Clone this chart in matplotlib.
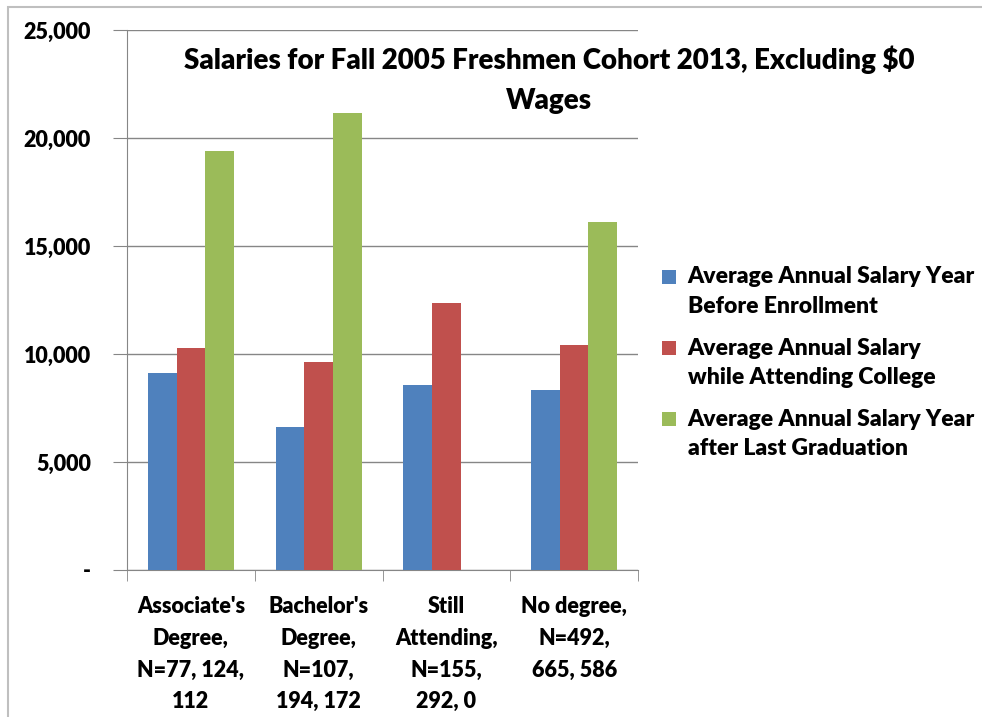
import numpy as np
import matplotlib.pyplot as plt
from matplotlib import font_manager as fm
from matplotlib.patches import Rectangle

# heavy Lato comes closest to the on-screen Calibri Bold of the original
bold_file = [f.fname for f in fm.fontManager.ttflist
             if f.name == 'Lato' and f.weight == 800 and f.style == 'normal'][0]
plt.rcParams['font.family'] = ['Lato', 'DejaVu Sans']

# Data (average annual salary, $)
categories = ["Associate's\nDegree,\nN=77, 124,\n112",
              "Bachelor's\nDegree,\nN=107,\n194, 172",
              "Still\nAttending,\nN=155,\n292, 0",
              "No degree,\nN=492,\n665, 586"]
before_enroll = [9130, 6640, 8580, 8340]
while_attending = [10290, 9640, 12380, 10430]
after_grad = [19400, 21160, 0, 16130]
series_labels = ["Average Annual Salary Year\nBefore Enrollment",
                 "Average Annual Salary\nwhile Attending College",
                 "Average Annual Salary Year\nafter Last Graduation"]
colors = ['#4F81BD', '#C0504D', '#9BBB59']
yticks = [0, 5000, 10000, 15000, 20000, 25000]


def fp(size):
    return fm.FontProperties(fname=bold_file, size=size)


fig = plt.figure(figsize=(9.82, 7.17), dpi=100)
ax = fig.add_axes([127 / 982, 1 - 570 / 717, (638 - 127) / 982, (570 - 30) / 717])

# outer chart border (only top and left visible in the crop)
fig.patches.append(Rectangle((8 / 982, -0.1), 1.2, 1 - 7 / 717 + 0.1,
                             transform=fig.transFigure, fill=False,
                             edgecolor='#BFBFBF', lw=1.5))

x = np.arange(len(categories))
w = 0.225
for i, vals in enumerate([before_enroll, while_attending, after_grad]):
    ax.bar(x + (i - 1) * w, vals, width=w, color=colors[i],
           label=series_labels[i], zorder=3)

ax.set_xlim(-0.5, 3.5)
ax.set_ylim(0, 25000)
ax.set_yticks(yticks)
ax.set_yticklabels(['-' if v == 0 else f'{v:,}' for v in yticks], fontproperties=fp(15.5))
ax.yaxis.grid(True, color='#868686', lw=1)
ax.set_axisbelow(True)

ax.set_xticks(x)
ax.set_xticklabels(categories, linespacing=1.62, fontproperties=fp(15.5))
ax.set_xticks(np.arange(-0.5, 4, 1), minor=True)
ax.tick_params(axis='x', which='major', length=0, pad=19)
ax.tick_params(axis='x', which='minor', length=8, color='#868686', direction='out')
ax.tick_params(axis='y', length=10, color='#868686', pad=16)

for s in ['top', 'right']:
    ax.spines[s].set_visible(False)
for s in ['left', 'bottom']:
    ax.spines[s].set_color('#868686')

fig.text(549 / 982, 1 - 45 / 717,
         "Salaries for Fall 2005 Freshmen Cohort 2013, Excluding $0\nWages",
         ha='center', va='top', fontproperties=fp(20), linespacing=1.68)

leg = ax.legend(loc='upper left', bbox_to_anchor=(651 / 982, 1 - 255 / 717),
                bbox_transform=fig.transFigure, frameon=False, prop=fp(16.5),
                handlelength=0.6, handleheight=0.6, handletextpad=0.5,
                labelspacing=0.9, borderpad=0)
for t in leg.get_texts():
    t.set_linespacing(1.5)
# Excel lines the colour square up with the first line of each label
for p in leg.get_patches():
    p.set_y(p.get_y() + 11)

fig.savefig('out.png', dpi=100)
